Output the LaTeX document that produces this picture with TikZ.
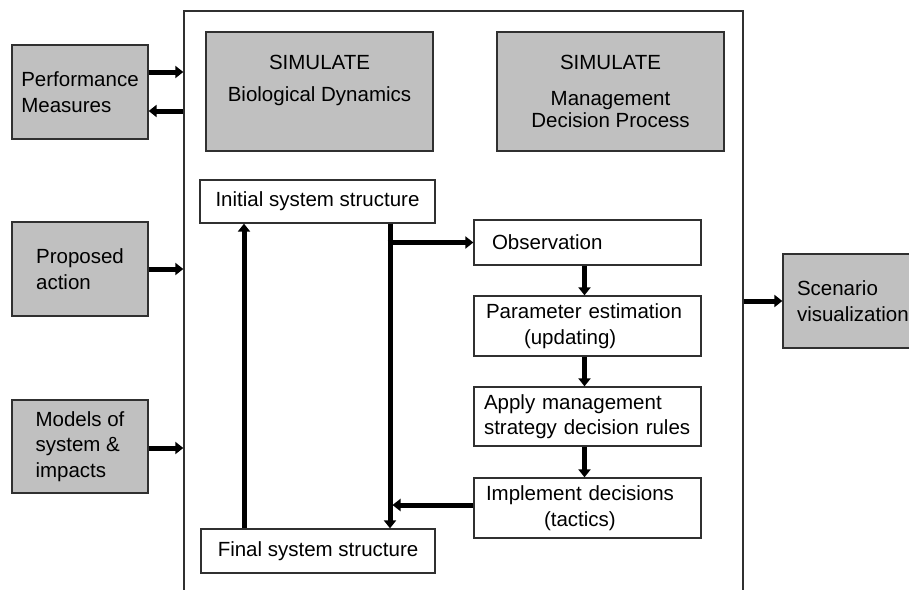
\documentclass[tikz,border=0pt]{standalone}
\usepackage{fontspec}
\setmainfont{Liberation Sans}
\usetikzlibrary{arrows.meta,calc}
\definecolor{boxgray}{HTML}{C0C0C0}
\definecolor{edgegray}{HTML}{303030}
\begin{document}
\begin{tikzpicture}[x=1pt,y=-1pt,
  box/.style={draw=edgegray, line width=1.3pt, inner sep=0pt, fill=white,
    font=\fontsize{20.5}{25.5}\selectfont, align=center},
  gbox/.style={box, fill=boxgray},
  simbox/.style={gbox, minimum width=227pt, minimum height=119pt,
    font=\fontsize{20.5}{22}\selectfont},
  flowbox/.style={box, minimum width=227pt},
  sidebox/.style={gbox, minimum width=136pt, align=left},
  arr/.style={line width=5pt, -{Triangle[length=8pt,width=12pt]}},
  thk/.style={line width=5pt}]
\useasboundingbox (0,0) rectangle (909,589);
\fill[white] (0,0) rectangle (909,589);
\clip (0,0) rectangle (909,589);

% outer simulation frame
\node[draw=edgegray, line width=1.4pt, minimum width=559pt, minimum height=609pt, inner sep=0pt] (sim) at (463.5,315.5) {};

% left inputs
\node[sidebox, minimum height=94pt] (perf) at (80,92) {Performance\\Measures};
\node[sidebox, minimum height=94pt] (prop) at (80,269) {Proposed\\action};
\node[sidebox, minimum height=93pt] (models) at (80,446.5) {Models of\\system \&\\impacts};

% right output
\node[gbox, minimum width=147pt, minimum height=94pt, text width=119pt, align=left] (scen) at (856.5,301) {Scenario\\visualization};

% simulate boxes
\node[simbox] (bio) at (319.5,91.5) {SIMULATE\\[10pt]Biological Dynamics\\[3.6pt]\phantom{D}};
\node[simbox] (mgmt) at (610.5,91.5) {SIMULATE\\[14pt]Management\\Decision Process};

% system structure boxes
\node[box, minimum width=235pt, minimum height=43pt] (init) at (317.5,201.5) {Initial system structure};
\node[box, minimum width=234pt, minimum height=44pt] (final) at (318,551) {Final system structure};

% management process boxes
\node[flowbox, minimum height=45pt, text width=191pt, align=left] (obs) at (587.5,242.5) {Observation};
\node[flowbox, minimum height=60pt, text width=203pt, align=left] (param) at (587.5,326) {Parameter estimation\\\hspace*{38pt}(updating)};
\node[flowbox, minimum height=59pt, text width=207pt, align=left] (apply) at (587.5,416.5) {Apply management\\strategy decision rules};
\node[flowbox, minimum height=60pt, text width=203pt, align=left] (impl) at (587.5,508) {Implement decisions\\\hspace*{58pt}(tactics)};

% helper coordinates on the two vertical lines
\coordinate (rtop) at ([xshift=72.5pt]init.south);
\coordinate (ltop) at ([xshift=-73.5pt]init.south);

% input / output arrows
\draw[arr] ([yshift=20pt]perf.east) -- ([yshift=20pt]perf.east -| sim.west);
\draw[arr] ([yshift=-19pt]perf.east -| sim.west) -- ([yshift=-19pt]perf.east);
\draw[arr] (prop.east) -- (prop.east -| sim.west);
\draw[arr] ([yshift=-1.5pt]models.east) -- ([yshift=-1.5pt]models.east -| sim.west);
\draw[arr] (scen.west -| sim.east) -- (scen.west);

% inner loop
\draw[arr] (rtop) -- (rtop |- final.north);
\draw[arr] ([xshift=-2.5pt]obs.west -| rtop) -- (obs.west);
\draw[arr] (ltop |- final.north) -- (ltop);
\draw[arr] ([xshift=-3pt]obs.south) -- ([xshift=-3pt]param.north);
\draw[arr] ([xshift=-3pt]param.south) -- ([xshift=-3pt]apply.north);
\draw[arr] ([xshift=-3pt]apply.south) -- ([xshift=-3pt]impl.north);
\draw[arr] ([yshift=3pt]impl.west) -- ([xshift=2.5pt,yshift=3pt]impl.west -| rtop);
\end{tikzpicture}
\end{document}
